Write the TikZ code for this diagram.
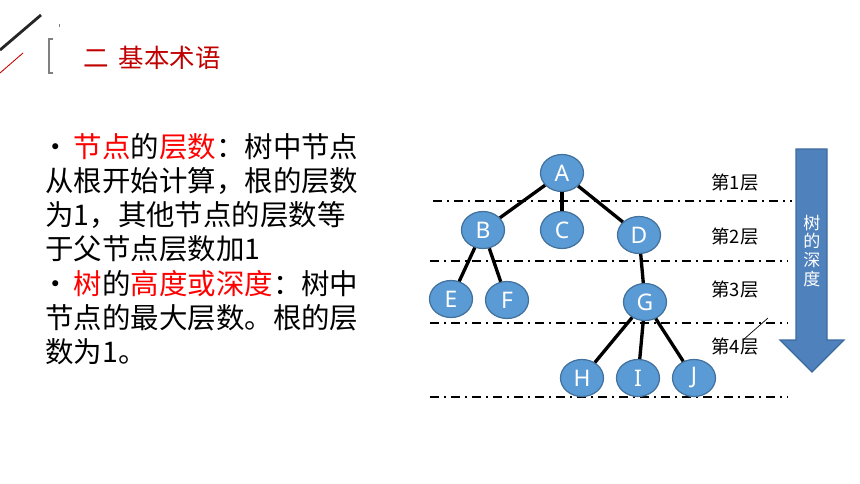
\documentclass[tikz,border=0pt]{standalone}
\usepackage{fontspec}
\usepackage{xcolor}
\usepackage{tikz}
\usetikzlibrary{shapes.geometric,positioning}
\setmainfont{Noto Sans CJK SC}
\newfontfamily\latin{Noto Sans}
\definecolor{titlered}{HTML}{C00000}
\definecolor{nodefill}{HTML}{5B9BD5}
\definecolor{nodeedge}{HTML}{41719C}
\definecolor{arrowfill}{HTML}{4F81BD}
\definecolor{arrowedge}{HTML}{3C6A9E}
\tikzset{
  treenode/.style={ellipse,draw=nodeedge,fill=nodefill,line width=0.7pt,minimum width=0.86cm,minimum height=0.74cm,inner sep=0pt,text=white,font=\latin\fontsize{13}{13}\selectfont},
  treeedge/.style={line width=1.9pt,black},
  levelline/.style={line width=1.1pt,black,dash pattern=on 0.18cm off 0.1cm on 0.04cm off 0.1cm},
  levellabel/.style={font=\fontsize{10.5}{12}\selectfont},
}

\begin{document}
\begin{tikzpicture}[x=0.02cm,y=-0.02cm]
      \useasboundingbox (0,0) rectangle (860,484);
      \draw[line width=1.6pt,black!85] (0,50) -- (41,15);
      \draw[red!80!black,line width=0.5pt] (0,73) -- (23,53);
      \draw[gray,line width=0.4pt] (59,24) -- (59,27);
      \draw[gray,line width=0.9pt] (53,39) -- (49,39) -- (49,73) -- (53,73);
      \node[anchor=west,inner sep=0pt,text=titlered,font=\fontsize{14.5}{16}\selectfont] (title) at (83,58) {二\hspace{0.4em}基本术语};

      \node[anchor=north west,align=left,inner sep=0pt,font=\fontsize{16.2}{19.46}\selectfont] (body) at (45,133) {%
        \makebox[0.75em]{\textbullet}\hspace{0.25em}\textcolor{red}{节点}的\textcolor{red}{层数}：树中节点\\
        从根开始计算，根的层数\\
        为1，其他节点的层数等\\
        于父节点层数加1\\
        \makebox[0.75em]{\textbullet}\hspace{0.25em}\textcolor{red}{树}的\textcolor{red}{高度或深度}：树中\\
        节点的最大层数。根的层\\
        数为1。};

      \draw[levelline] (433,201) -- (792,201);
      \draw[levelline] (430,261) -- (788,261);
      \draw[levelline] (430,323) -- (788,323);
      \draw[levelline] (430,397) -- (788,397);

      \node[treenode] (A) at (562,173) {A};
      \node[treenode] (B) at (483,230) {B};
      \node[treenode] (C) at (562,230) {C};
      \node[treenode] (D) at (639,235) {D};
      \node[treenode] (E) at (451,299) {E};
      \node[treenode] (F) at (507,300) {F};
      \node[treenode] (G) at (645,302) {G};
      \node[treenode] (H) at (582,378) {H};
      \node[treenode] (I) at (638,378) {I};
      \node[treenode] (J) at (694,378) {J};
      \draw[treeedge] (A) -- (B);
      \draw[treeedge] (A) -- (C);
      \draw[treeedge] (A) -- (D);
      \draw[treeedge] (B) -- (E);
      \draw[treeedge] (B) -- (F);
      \draw[treeedge] (D) -- (G);
      \draw[treeedge] (G) -- (H);
      \draw[treeedge] (G) -- (I);
      \draw[treeedge] (G) -- (J);

      \node[levellabel] (lv1) at (735,183) {第1层};
      \node[levellabel] (lv2) at (735,237) {第2层};
      \node[levellabel] (lv3) at (735,290) {第3层};
      \node[levellabel] (lv4) at (735,347) {第4层};
      \draw[black,line width=0.4pt] (743,340) -- (768,318);

      \filldraw[draw=arrowedge,fill=arrowfill,line width=0.7pt] (796,149) -- (827,149) -- (827,340) -- (844,340) -- (812,372) -- (780,340) -- (796,340) -- cycle;
      \node[align=center,text=white,inner sep=0pt,font=\fontsize{9.7}{10.8}\selectfont] (depth) at (812,251) {树\\的\\深\\度};
    \end{tikzpicture}
\end{document}
